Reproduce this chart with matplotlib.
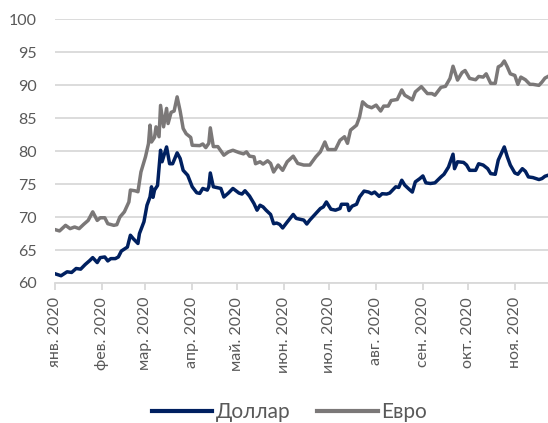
import matplotlib
matplotlib.use('Agg')
import matplotlib.pyplot as plt
import pandas as pd

plt.rcParams['font.family'] = ['Lato', 'DejaVu Sans']

# Курс доллара (ЦБ), 2020
usd_dates = ['01-01', '01-05', '01-09', '01-12', '01-15', '01-18', '01-21', '01-24', '01-26', '01-29',
             '01-31', '02-03', '02-05', '02-07', '02-10', '02-12', '02-14', '02-18', '02-20', '02-22',
             '02-25', '02-26', '02-29', '03-02', '03-04', '03-05', '03-06', '03-07', '03-09', '03-11',
             '03-12', '03-13', '03-15', '03-17', '03-19', '03-22', '03-24', '03-26', '03-29', '04-01',
             '04-04', '04-06', '04-08', '04-11', '04-12', '04-13', '04-15', '04-20', '04-22', '04-25',
             '04-28', '05-02', '05-04', '05-06', '05-09', '05-12', '05-14', '05-16', '05-18', '05-20',
             '05-23', '05-25', '05-27', '05-29', '05-31', '06-03', '06-07', '06-09', '06-14', '06-16',
             '06-18', '06-22', '06-25', '06-27', '06-29', '07-02', '07-05', '07-08', '07-09', '07-13',
             '07-14', '07-16', '07-19', '07-21', '07-24', '07-27', '07-29', '07-31', '08-03', '08-05',
             '08-08', '08-10', '08-14', '08-16', '08-18', '08-20', '08-23', '08-25', '08-27', '08-30',
             '09-01', '09-03', '09-06', '09-09', '09-13', '09-15', '09-18', '09-21', '09-22', '09-24',
             '09-28', '09-30', '10-02', '10-06', '10-08', '10-11', '10-14', '10-16', '10-19', '10-21',
             '10-22', '10-25', '10-27', '10-29', '11-01', '11-03', '11-06', '11-08', '11-10', '11-13',
             '11-17', '11-19', '11-21', '11-23']
usd_values = [61.4, 61.1, 61.7, 61.6, 62.2, 62.1, 62.8, 63.4, 63.85, 63.1,
              63.85, 63.95, 63.35, 63.7, 63.7, 63.95, 64.85, 65.45, 67.25, 66.7,
              66.0, 67.5, 69.3, 71.8, 73.05, 74.6, 73.0, 74.1, 74.8, 80.15,
              78.4, 79.15, 80.65, 78.1, 78.1, 79.75, 78.9, 77.1, 76.35, 74.6,
              73.7, 73.6, 74.35, 74.1, 74.6, 76.7, 74.6, 74.35, 73.05, 73.65,
              74.35, 73.65, 73.5, 74.0, 73.2, 72.05, 71.05, 71.8, 71.55, 71.05,
              70.4, 69.0, 69.1, 68.9, 68.35, 69.25, 70.4, 69.8, 69.55, 68.95,
              69.55, 70.55, 71.3, 71.55, 72.3, 71.2, 71.05, 71.3, 71.95, 71.95,
              71.0, 71.65, 71.95, 73.05, 73.95, 73.8, 73.55, 73.8, 73.15, 73.55,
              73.5, 73.65, 74.6, 74.5, 75.6, 74.85, 74.2, 73.8, 75.35, 75.85,
              76.25, 75.2, 75.1, 75.2, 76.1, 76.5, 77.6, 79.55, 77.35, 78.4,
              78.3, 77.9, 77.1, 77.1, 78.1, 77.9, 77.35, 76.6, 76.5, 78.65,
              79.15, 80.65, 79.15, 77.9, 76.7, 76.5, 77.35, 76.95, 76.1, 76.0,
              75.7, 75.85, 76.2, 76.35]

# Курс евро (ЦБ), 2020
eur_dates = ['01-01', '01-04', '01-08', '01-11', '01-14', '01-17', '01-20', '01-23', '01-26', '01-29',
             '01-31', '02-03', '02-05', '02-09', '02-11', '02-13', '02-16', '02-19', '02-20', '02-23',
             '02-25', '02-27', '03-01', '03-03', '03-04', '03-05', '03-07', '03-08', '03-10', '03-11',
             '03-13', '03-15', '03-16', '03-18', '03-20', '03-22', '03-24', '03-26', '03-28', '03-31',
             '04-01', '04-06', '04-08', '04-10', '04-12', '04-13', '04-15', '04-18', '04-22', '04-25',
             '04-28', '05-02', '05-05', '05-07', '05-09', '05-12', '05-13', '05-16', '05-18', '05-21',
             '05-23', '05-25', '05-28', '05-31', '06-03', '06-07', '06-10', '06-14', '06-18', '06-22',
             '06-25', '06-28', '06-30', '07-05', '07-08', '07-11', '07-13', '07-15', '07-19', '07-21',
             '07-23', '07-26', '07-29', '08-01', '08-04', '08-06', '08-09', '08-11', '08-15', '08-18',
             '08-20', '08-23', '08-25', '08-27', '08-31', '09-04', '09-07', '09-09', '09-13', '09-16',
             '09-19', '09-21', '09-24', '09-27', '09-29', '10-02', '10-06', '10-08', '10-11', '10-13',
             '10-16', '10-19', '10-21', '10-23', '10-25', '10-27', '10-29', '11-01', '11-03', '11-05',
             '11-08', '11-11', '11-13', '11-17', '11-19', '11-21', '11-23']
eur_values = [68.1, 67.9, 68.75, 68.25, 68.5, 68.25, 68.9, 69.5, 70.8, 69.5,
              69.9, 69.9, 69.0, 68.75, 68.85, 70.0, 70.8, 72.3, 74.1, 74.0,
              73.85, 76.85, 79.15, 81.15, 83.95, 81.4, 82.1, 83.7, 82.2, 86.95,
              83.7, 86.5, 84.2, 85.9, 86.1, 88.25, 86.1, 83.45, 82.65, 82.1,
              80.9, 80.85, 81.1, 80.55, 81.2, 83.55, 80.7, 80.7, 79.4, 79.9,
              80.15, 79.8, 79.6, 79.9, 79.25, 79.15, 78.1, 78.4, 78.05, 78.55,
              78.15, 76.85, 77.9, 77.1, 78.4, 79.25, 78.15, 77.9, 77.9, 79.15,
              79.9, 81.4, 80.25, 80.25, 81.65, 82.2, 81.2, 83.2, 83.95, 85.2,
              87.5, 86.85, 86.6, 87.0, 86.1, 86.85, 86.85, 87.7, 87.85, 89.3,
              88.5, 88.1, 87.8, 89.0, 89.8, 88.75, 88.75, 88.5, 89.7, 89.85,
              91.05, 92.9, 90.8, 91.95, 92.25, 91.05, 90.85, 91.35, 91.25, 91.75,
              90.3, 90.3, 92.8, 93.05, 93.7, 92.8, 91.75, 91.5, 90.15, 91.25,
              90.85, 90.15, 90.15, 90.0, 90.5, 91.1, 91.35]

month_labels = ['янв. 2020', 'фев. 2020', 'мар. 2020', 'апр. 2020', 'май. 2020', 'июн. 2020',
                'июл. 2020', 'авг. 2020', 'сен. 2020', 'окт. 2020', 'ноя. 2020']

usd = pd.Series(usd_values, index=pd.to_datetime(['2020-' + d for d in usd_dates]))
eur = pd.Series(eur_values, index=pd.to_datetime(['2020-' + d for d in eur_dates]))
month_starts = pd.date_range('2020-01-01', periods=len(month_labels), freq='MS')

fig = plt.figure(figsize=(5.48, 4.23), dpi=100)
ax = fig.add_axes([0.1004, 0.331, 0.8996, 0.623])

ax.plot(usd.index, usd.values, color='#002060', lw=2.5, label='Доллар', solid_joinstyle='round')
ax.plot(eur.index, eur.values, color='#7b7878', lw=2.5, label='Евро', solid_joinstyle='round')

ax.set_ylim(60, 100)
ax.set_yticks(range(60, 101, 5))
ax.set_xlim(usd.index[0], usd.index[-1])
ax.set_xticks(month_starts)
ax.set_xticklabels(month_labels, rotation=90)

ax.grid(axis='y', color='#d9d9d9', lw=1.3)
ax.set_axisbelow(True)
for side in ['top', 'right', 'left']:
    ax.spines[side].set_visible(False)
ax.spines['bottom'].set_color('#d9d9d9')
ax.spines['bottom'].set_linewidth(1.3)
ax.tick_params(axis='y', length=0, pad=13, labelsize=11.5, labelcolor='#595959')
ax.tick_params(axis='x', length=5, width=1.3, color='#d9d9d9', pad=5, labelsize=11.5, labelcolor='#595959')

leg = ax.legend(loc='lower center', bbox_to_anchor=(0.475, -0.6), ncol=2, frameon=False,
                fontsize=15, handlelength=2.9, handletextpad=0.15, columnspacing=1.3)
for line in leg.get_lines():
    line.set_linewidth(3)
for t in leg.get_texts():
    t.set_color('#595959')

fig.savefig('out.png', dpi=100)
